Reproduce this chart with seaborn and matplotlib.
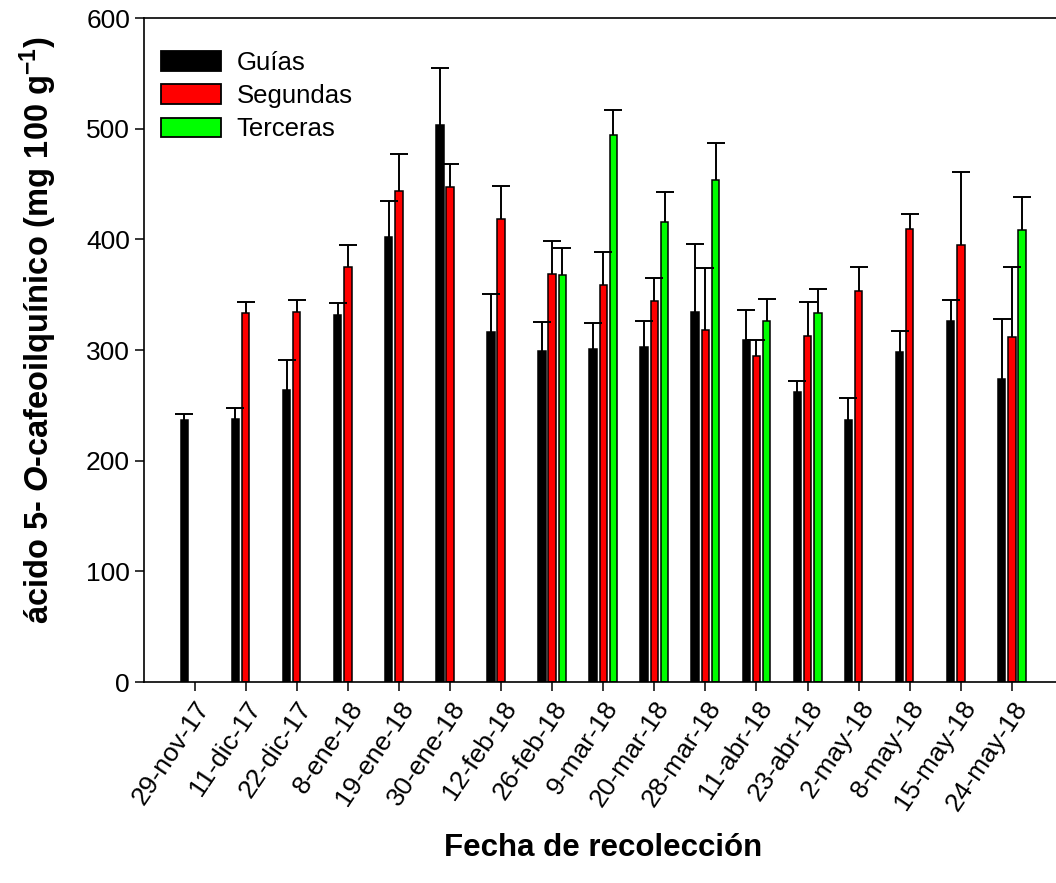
import numpy as np
import pandas as pd
import seaborn as sns
import matplotlib.pyplot as plt
from matplotlib.patches import Patch

# Collection dates
fechas = ["29-nov-17", "11-dic-17", "22-dic-17", "8-ene-18", "19-ene-18",
          "30-ene-18", "12-feb-18", "26-feb-18", "9-mar-18", "20-mar-18",
          "28-mar-18", "11-abr-18", "23-abr-18", "2-may-18", "8-may-18",
          "15-may-18", "24-may-18"]

nan = np.nan
# Mean 5-O-caffeoylquinic acid content (mg 100 g-1) and standard deviation
guias = [237, 238, 264, 332, 402, 503, 316, 299, 301, 303, 334, 309, 262, 236.5, 298, 326.5, 273.5]
guias_err = [5.5, 10, 27, 10.5, 33, 52, 35, 26, 23, 23, 61.5, 27.5, 10, 20.5, 19, 19, 54.5]

segundas = [nan, 333, 334, 375, 444, 447.5, 418.5, 368.5, 359, 344.5, 318, 295, 313, 353.5, 409.5, 395, 311.5]
segundas_err = [nan, 10, 11, 19.5, 33, 21, 30, 30, 30, 20.5, 56, 14, 30.5, 21.5, 13.5, 66, 63.5]

terceras = [nan, nan, nan, nan, nan, nan, nan, 367.5, 494.5, 416, 453.5, 326.5, 333.5, nan, nan, nan, 408.5]
terceras_err = [nan, nan, nan, nan, nan, nan, nan, 24.5, 22, 26.5, 34, 19.5, 21.5, nan, nan, nan, 30]

grupos = ["Guías", "Segundas", "Terceras"]
colores = ["#000000", "#ff0000", "#00ff00"]

sns.set_theme(style="ticks")
plt.rcParams["font.family"] = ["Liberation Sans", "DejaVu Sans"]
plt.rcParams["text.color"] = "black"
plt.rcParams["axes.labelcolor"] = "black"
plt.rcParams["xtick.color"] = "black"
plt.rcParams["ytick.color"] = "black"
plt.rcParams["mathtext.fontset"] = "custom"
plt.rcParams["mathtext.rm"] = "Liberation Sans:bold"
plt.rcParams["mathtext.bf"] = "Liberation Sans:bold"
plt.rcParams["mathtext.it"] = "Liberation Sans:italic:bold"

valores = {"Guías": guias, "Segundas": segundas, "Terceras": terceras}
errores = {"Guías": guias_err, "Segundas": segundas_err, "Terceras": terceras_err}

filas = []
for g in grupos:
    for f, v, e in zip(fechas, valores[g], errores[g]):
        filas.append({"fecha": f, "valor": v, "err": e, "grupo": g})
df = pd.DataFrame(filas).dropna(subset=["valor"])

W, H = 1056, 883
fig = plt.figure(figsize=(W / 100, H / 100), dpi=100)
ax = fig.add_axes([144 / W, 201 / H, (1063 - 144) / W, 664 / H])

sns.barplot(data=df, x="fecha", y="valor", hue="grupo", order=fechas,
            hue_order=grupos, palette=colores, width=0.6, gap=0.27,
            errorbar=None, edgecolor="black", linewidth=1.1,
            saturation=1, legend=False, ax=ax)

# Upper-only error bars, placed on the centres of the drawn bars
for cont, g in zip(ax.containers, grupos):
    xs, hs, es = [], [], []
    for bar in cont:
        xc = bar.get_x() + bar.get_width() / 2
        idx = int(round(xc))
        xs.append(xc)
        hs.append(bar.get_height())
        es.append(errores[g][idx])
    es = np.array(es)
    eb = ax.errorbar(xs, hs, yerr=[np.zeros_like(es), es], fmt="none",
                     ecolor="black", elinewidth=1.4, capsize=6.5,
                     capthick=1.4, zorder=5)
    # hide the lower caps, which would sit on top of the bars
    eb[1][0].set_visible(False)

ax.set_xlim(-0.99, 17)
ax.set_ylim(0, 600)
ax.set_yticks(range(0, 601, 100))
ax.tick_params(axis="both", direction="out", length=6.5, width=1.1,
               colors="black", labelsize=19)
ax.tick_params(axis="x", pad=4)
plt.setp(ax.get_xticklabels(), rotation=56, ha="right",
         rotation_mode="anchor")

for s in ["left", "bottom", "top"]:
    ax.spines[s].set_linewidth(1.2)
    ax.spines[s].set_color("black")
ax.spines["right"].set_visible(False)

ax.set_xlabel("Fecha de recolección", fontsize=22.5, fontweight="bold")
ax.xaxis.label.set_va("center")
ax.xaxis.set_label_coords((603 - 144) / 919, (682 - 848) / 664)

ax.set_ylabel(r"ácido 5- $\mathit{O}$-cafeoilquínico (mg 100 g$^{\mathbf{-1}}$)",
              fontsize=23.5, fontweight="bold")
ax.yaxis.label.set_rotation_mode("default")
ax.yaxis.label.set_va("center")
ax.yaxis.label.set_ha("center")
ax.yaxis.set_label_coords((38 - 144) / 919, (682 - 330) / 664)

handles = [Patch(facecolor=c, edgecolor="black", linewidth=1.3) for c in colores]
fig.legend(handles, grupos, loc="upper left",
           bbox_to_anchor=(161 / W, 1 - 51 / H), frameon=False,
           fontsize=18.5, handlelength=2.35, handleheight=0.8,
           handletextpad=0.6, labelspacing=0.36, borderpad=0,
           borderaxespad=0)

fig.savefig("out.png", dpi=100)
